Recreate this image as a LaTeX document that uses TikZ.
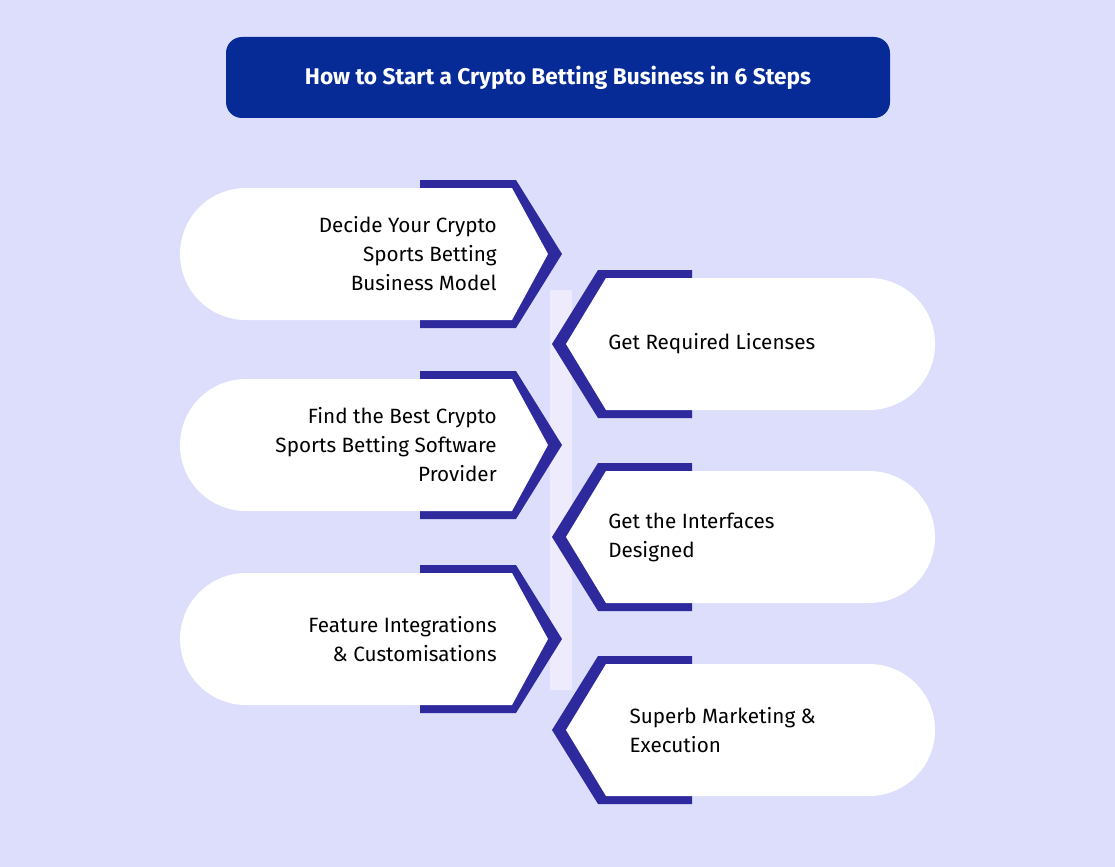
\documentclass[tikz,border=0pt]{standalone}
\usepackage{fontspec}
\setmainfont{Fira Sans}
\definecolor{bgcol}{HTML}{DCDEFB}
\definecolor{titlecol}{HTML}{062A96}
\definecolor{bandcol}{HTML}{2E2A9E}
\definecolor{linkcol}{HTML}{EEEBFC}
\tikzset{
  steptext/.style={font=\fontsize{15.5}{21.75}\selectfont, text=black, inner sep=0pt},
  lefttext/.style={steptext, anchor=east, align=right},
  righttext/.style={steptext, anchor=west, align=left}
}
\begin{document}
\begin{tikzpicture}[x=0.75pt,y=-0.75pt]
\fill[bgcol] (0,0) rectangle (1115,867);
\useasboundingbox (0,0) rectangle (1115,867);

% title
\fill[titlecol, rounded corners=12pt] (226,37) rectangle (890,118);
\node[font=\bfseries\fontsize{17}{20}\selectfont, text=white] (title) at (558,78) {How to Start a Crypto Betting Business in 6 Steps};

% pale links between the steps
\fill[linkcol] (550,290) rectangle (572,690);

% left steps
\foreach \y/\name in {254/one, 445/three, 639/five} {
  \fill[bandcol] (420,\y-74) -- (516,\y-74) -- (562,\y) -- (516,\y+74) -- (420,\y+74) -- cycle;
  \fill[white] (246,\y-66) -- (512,\y-66) -- (548,\y) -- (512,\y+66) -- (246,\y+66) -- cycle;
  \fill[white] (246,\y) circle[radius=66];
  \coordinate (\name) at (497,\y);
}
% right steps
\foreach \y/\name in {344/two, 537/four, 730/six} {
  \fill[bandcol] (692,\y-74) -- (598,\y-74) -- (552,\y) -- (598,\y+74) -- (692,\y+74) -- cycle;
  \fill[white] (869,\y-66) -- (606,\y-66) -- (566,\y) -- (606,\y+66) -- (869,\y+66) -- cycle;
  \fill[white] (869,\y) circle[radius=66];
  \coordinate (\name) at (608,\y);
}

\node[lefttext] (t1) at (one) {Decide Your Crypto\\Sports Betting\\Business Model};
\node[righttext] (t2) at (two) {Get Required Licenses};
\node[lefttext] (t3) at (three) {Find the Best Crypto\\Sports Betting Software\\Provider};
\node[righttext] (t4) at (four) {Get the Interfaces\\Designed};
\node[lefttext] (t5) at (five) {Feature Integrations\\\& Customisations};
\node[righttext] (t6) at ([xshift=16]six) {Superb Marketing \&\\Execution};
\end{tikzpicture}
\end{document}
